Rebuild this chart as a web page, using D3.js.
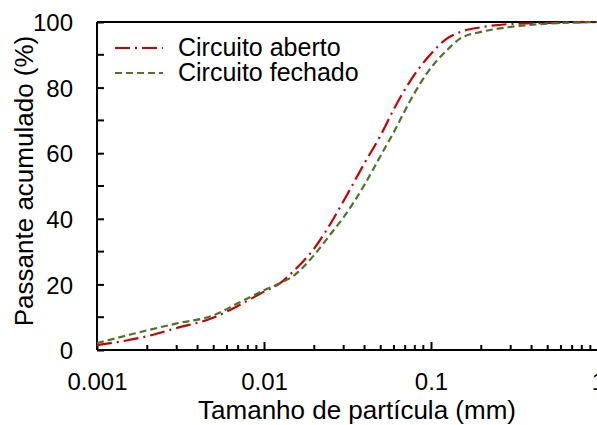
<!DOCTYPE html>
<html>
<head>
<meta charset="utf-8">
<script src="https://cdn.jsdelivr.net/npm/d3@7"></script>
<style>
  body { margin: 0; background: #fff; }
  text { font-family: "Liberation Sans", Arial, sans-serif; fill: #000; }
</style>
</head>
<body>
<div id="chart"></div>
<script>
// Particle sizes (mm)
var sizes = [0.001, 0.0015, 0.002, 0.003, 0.005, 0.007, 0.01, 0.0125, 0.015, 0.02,
  0.025, 0.03, 0.04, 0.05, 0.06, 0.075, 0.095, 0.125, 0.15, 0.2, 0.3, 0.5, 1];

// Cumulative passing (%) for each circuit
var aberto = [1.5, 2.9, 4.2, 6.7, 9.9, 13.5, 17.8, 20.4, 24.0, 31.0,
  38.5, 45.5, 57.0, 65.5, 73.5, 82, 89, 95, 97, 98.4, 99.4, 99.7, 100];
var fechado = [2.1, 4.4, 6.0, 8.1, 10.6, 14.3, 18.2, 20.4, 22.6, 29.0,
  35.3, 40.5, 50.4, 59.3, 66.5, 76, 84.5, 91.5, 95, 97, 98.5, 99.5, 100];

var xTicks = [0.001, 0.01, 0.1, 1];
var xTickLabels = ["0.001", "0.01", "0.1", "1"];
var yTicks = [0, 20, 40, 60, 80, 100];

var seriesNames = ["Circuito aberto", "Circuito fechado"];

// SVG area
var svgWidth = 597;
var svgHeight = 425;

var margin = { top: 22, right: -1, bottom: 75, left: 97 };
var width = svgWidth - margin.left - margin.right;
var height = svgHeight - margin.top - margin.bottom;

var svg = d3.select("#chart")
  .append("svg")
  .attr("width", svgWidth)
  .attr("height", svgHeight);

var chartGroup = svg.append("g")
  .attr("transform", `translate(${margin.left}, ${margin.top})`);

// Scales
var xLogScale = d3.scaleLog()
  .domain([0.001, 1])
  .range([0, width]);

var yLinearScale = d3.scaleLinear()
  .domain([0, 100])
  .range([height, 0]);

// minor ticks on x (2..9 of each decade)
var xMinor = [];
[0.001, 0.01, 0.1].forEach(function (dec) {
  for (var k = 2; k <= 9; k++) xMinor.push(dec * k);
});
var yMinor = [10, 30, 50, 70, 90];

// Frame (top and right sides)
chartGroup.append("path")
  .attr("d", `M0,0H${width}V${height}`)
  .attr("fill", "none")
  .attr("stroke", "#000")
  .attr("stroke-width", 2);

// Bottom axis with inside ticks
var bottomAxis = d3.axisBottom(xLogScale)
  .tickValues(xTicks)
  .tickSize(-8)
  .tickFormat((d, i) => xTickLabels[i]);

var xAxisG = chartGroup.append("g")
  .attr("transform", `translate(0, ${height})`)
  .call(bottomAxis);

xAxisG.select(".domain").attr("stroke-width", 2).attr("d", `M0,0H${width}`);
xAxisG.selectAll(".tick line").attr("stroke-width", 2);
xAxisG.selectAll(".tick text")
  .attr("font-size", 24)
  .attr("y", 40)
  .attr("dy", 0);

xAxisG.selectAll(".minor")
  .data(xMinor)
  .enter()
  .append("line")
  .attr("class", "minor")
  .attr("x1", d => xLogScale(d))
  .attr("x2", d => xLogScale(d))
  .attr("y1", 0)
  .attr("y2", -5)
  .attr("stroke", "#000")
  .attr("stroke-width", 2);

// Left axis with inside ticks
var leftAxis = d3.axisLeft(yLinearScale)
  .tickValues(yTicks)
  .tickSize(-7);

var yAxisG = chartGroup.append("g")
  .call(leftAxis);

yAxisG.select(".domain").attr("stroke-width", 2).attr("d", `M0,${height}V0`);
yAxisG.selectAll(".tick line").attr("stroke-width", 2);
yAxisG.selectAll(".tick text")
  .attr("font-size", 24)
  .attr("x", -24)
  .attr("dy", "0.36em");

yAxisG.selectAll(".minor")
  .data(yMinor)
  .enter()
  .append("line")
  .attr("class", "minor")
  .attr("x1", 0)
  .attr("x2", 7)
  .attr("y1", d => yLinearScale(d))
  .attr("y2", d => yLinearScale(d))
  .attr("stroke", "#000")
  .attr("stroke-width", 2);

// Lines
var line = d3.line()
  .x(d => xLogScale(d[0]))
  .y(d => yLinearScale(d[1]))
  .curve(d3.curveMonotoneX);

var series = [
  { name: seriesNames[0], values: aberto, color: "#cc0000", dash: "15,5,2,5" },
  { name: seriesNames[1], values: fechado, color: "#4a752a", dash: "7,4" }
];

series.forEach(function (s) {
  chartGroup.append("path")
    .datum(sizes.map((x, i) => [x, s.values[i]]))
    .attr("d", line)
    .attr("fill", "none")
    .attr("stroke", s.color)
    .attr("stroke-width", 2.2)
    .attr("stroke-dasharray", s.dash);
});

// Legend
var legend = svg.append("g")
  .attr("transform", "translate(115, 48)");

series.forEach(function (s, i) {
  legend.append("line")
    .attr("x1", 0)
    .attr("x2", 48)
    .attr("y1", i * 25)
    .attr("y2", i * 25)
    .attr("stroke", s.color)
    .attr("stroke-width", 2.2)
    .attr("stroke-dasharray", s.dash);
  legend.append("text")
    .attr("x", 63)
    .attr("y", i * 25 + 8)
    .attr("font-size", 25)
    .text(s.name);
});

// Axis titles
svg.append("text")
  .attr("x", 357)
  .attr("y", 419)
  .attr("text-anchor", "middle")
  .attr("font-size", 26)
  .text("Tamanho de partícula (mm)");

svg.append("text")
  .attr("transform", "translate(33, 181) rotate(-90)")
  .attr("text-anchor", "middle")
  .attr("font-size", 26)
  .text("Passante acumulado (%)");
</script>
</body>
</html>
